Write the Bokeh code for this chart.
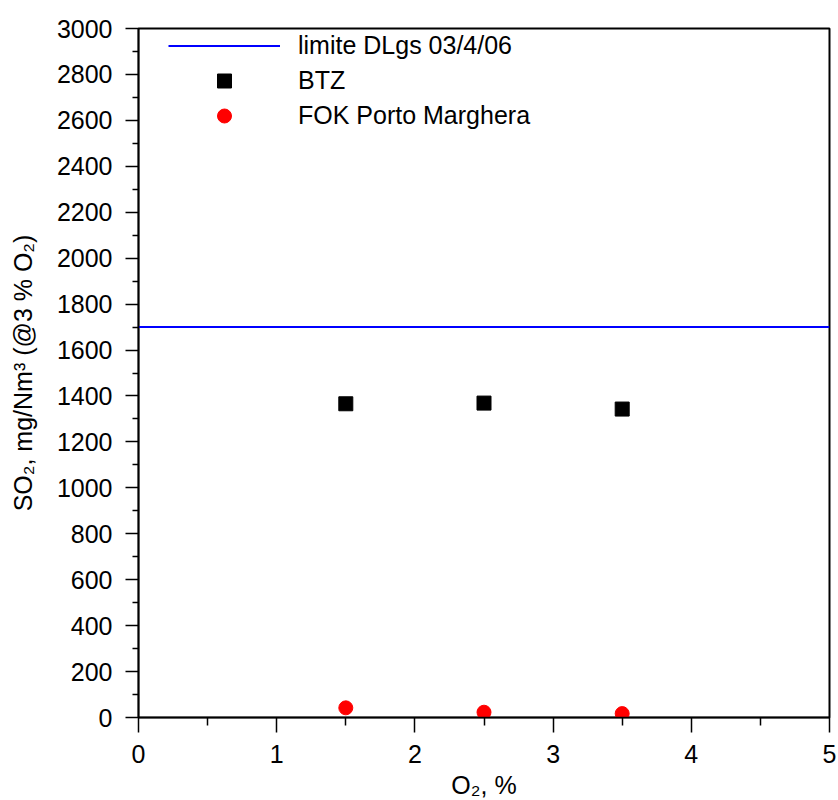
from bokeh.plotting import figure
from bokeh.models import Range1d, FixedTicker, Legend, LegendItem
from bokeh.embed import file_html
from bokeh.resources import INLINE

# ---- data ----
o2 = [1.5, 2.5, 3.5]
btz = [1366, 1369, 1343]
fok = [42, 23, 17]
limit = 1700
x_limits = [0, 5]
x_major = [0, 1, 2, 3, 4, 5]
x_minor = [0.5, 1.5, 2.5, 3.5, 4.5]
y_major = list(range(0, 3001, 200))
y_minor = list(range(100, 3000, 200))

FONT = "Liberation Sans"
FS = "25px"

p = figure(frame_width=691, frame_height=689,
           output_backend="svg", toolbar_location=None,
           x_range=Range1d(0, 5), y_range=Range1d(0, 3000),
           min_border_left=138, min_border_top=28,
           min_border_right=8, min_border_bottom=82)
p.grid.visible = False
p.outline_line_color = "black"
p.outline_line_width = 2
p.background_fill_color = "white"
p.border_fill_color = "white"

r_lim = p.line(x=x_limits, y=[limit, limit], line_color="#0000ff", line_width=2)
r_btz = p.scatter(x=o2, y=btz, marker="square", size=14, fill_color="black", line_color="black")
r_fok = p.scatter(x=o2, y=fok, marker="circle", size=14, fill_color="#ff0000", line_color="#ff0000")

for ax in (p.xaxis[0], p.yaxis[0]):
    ax.axis_line_color = "black"
    ax.axis_line_width = 1.5
    ax.major_tick_line_color = "black"
    ax.minor_tick_line_color = "black"
    ax.major_tick_line_width = 1.5
    ax.minor_tick_line_width = 1.5
    ax.major_tick_in = 0
    ax.minor_tick_in = 0
    ax.major_label_text_font = FONT
    ax.major_label_text_font_size = FS
    ax.major_label_text_color = "black"
    ax.axis_label_text_font = FONT
    ax.axis_label_text_font_size = FS
    ax.axis_label_text_font_style = "normal"
    ax.axis_label_text_color = "black"

p.xaxis.ticker = FixedTicker(ticks=x_major, minor_ticks=x_minor)
p.yaxis.ticker = FixedTicker(ticks=y_major, minor_ticks=y_minor)
p.xaxis.major_tick_out = 15
p.xaxis.minor_tick_out = 8
p.yaxis.major_tick_out = 13
p.yaxis.minor_tick_out = 6
p.xaxis.major_label_standoff = 12
p.yaxis.major_label_standoff = 13
p.xaxis.axis_label = "O₂, %"
p.yaxis.axis_label = "SO₂, mg/Nm³ (@3 % O₂)"
p.xaxis.axis_label_standoff = 5
p.yaxis.axis_label_standoff = 17

legend = Legend(items=[
    LegendItem(label="limite DLgs 03/4/06", renderers=[r_lim]),
    LegendItem(label="BTZ", renderers=[r_btz]),
    LegendItem(label="FOK Porto Marghera", renderers=[r_fok]),
], location=(30, 584))
legend.glyph_width = 112
legend.glyph_height = 35
legend.label_height = 35
legend.spacing = 0
legend.padding = 0
legend.margin = 0
legend.border_line_color = None
legend.background_fill_alpha = 0
legend.label_standoff = 18
legend.label_text_font = FONT
legend.label_text_font_size = FS
legend.label_text_color = "black"
p.add_layout(legend)

open("out.html", "w").write(file_html(p, INLINE))
